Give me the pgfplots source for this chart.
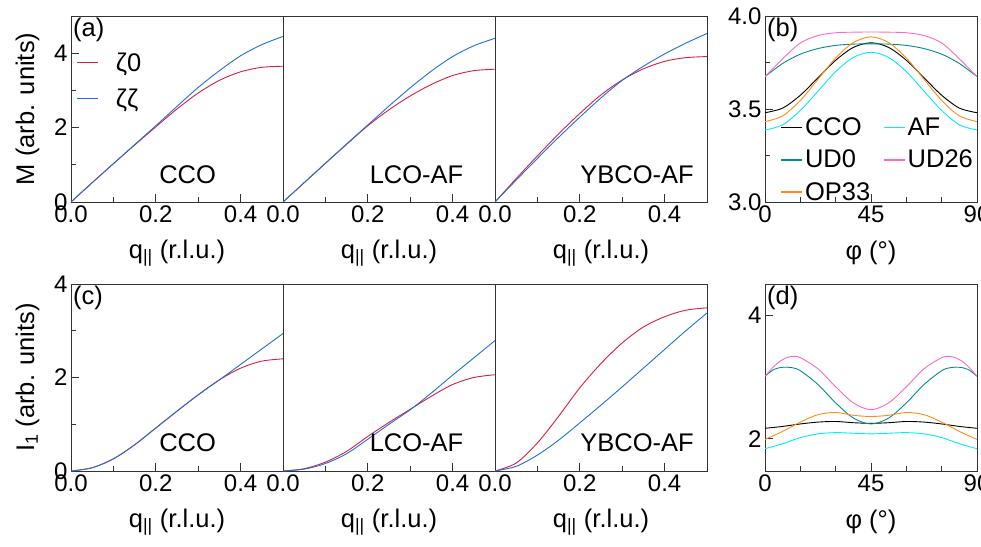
\documentclass[border=0pt]{standalone}
\usepackage{pgfplots}
\pgfplotsset{compat=1.18}
\usepackage{fontspec}
\setmainfont{Liberation Sans}
\definecolor{cred}{RGB}{218,30,65}
\definecolor{cblue}{RGB}{31,111,214}
\definecolor{ccyan}{RGB}{0,238,245}
\definecolor{cteal}{RGB}{0,140,140}
\definecolor{cpink}{RGB}{255,105,190}
\definecolor{corange}{RGB}{255,140,20}
\newcommand{\fs}{\fontsize{24}{28}\selectfont}
\newcommand{\fl}{\fontsize{25.5}{30}\selectfont}
\pgfplotsset{
  base/.style={scale only axis, width=212pt, height=186pt,
    axis line style={line width=0.8pt, black!80},
    tick style={line width=0.8pt, black!80},
    major tick length=8pt, minor tick length=5pt, tick pos=left,
    tick label style={font=\fs}, label style={font=\fl},
    every axis plot/.append style={line width=0.9pt, smooth},
    legend image code/.code={\draw[#1, line width=1.5pt] (0pt,0pt) -- (21pt,0pt);},
    xlabel style={at={(axis description cs:0.5,-0.274)}, anchor=center},
    ylabel style={at={(axis description cs:-0.205,0.5)}, anchor=center},
  },
  qax/.style={base, xmin=0, xmax=0.5, xtick={0,0.2,0.4}, xticklabels={0.0,0.2,0.4},
    minor xtick={0.1,0.3}, xlabel={q\textsubscript{||} (r.l.u.)}},
  pax/.style={base, xmin=0, xmax=90, xtick={0,45,90}, xticklabels={0,45,90},
    minor xtick={15,30,60,75}, xlabel={φ (°)}},
  noy/.style={ytick=\empty, minor ytick={}},
}
\begin{document}
\begin{tikzpicture}
%%%%% (a) CCO
\begin{axis}[qax, at={(71pt,-202pt)}, anchor=south west, ymin=0, ymax=5,
  ytick={0,2,4}, yticklabels={0,2,4}, minor ytick={1,3}, ylabel={M (arb. units)},
  legend style={at={(axis description cs:0.01,0.825)}, anchor=north west, draw=none, fill=none, font=\fl, row sep=12pt,
    /tikz/every odd column/.append style={column sep=15pt}},
  legend cell align=left]
\addplot[cred] coordinates {(0,0) (0.05,0.52) (0.1,1.03) (0.15,1.53) (0.2,2.02) (0.25,2.5) (0.3,2.93) (0.35,3.27) (0.4,3.5) (0.45,3.62) (0.5,3.65)};
\addlegendentry{ζ0}
\addplot[cblue] coordinates {(0,0) (0.05,0.52) (0.1,1.03) (0.15,1.54) (0.2,2.05) (0.25,2.57) (0.3,3.08) (0.35,3.53) (0.4,3.93) (0.45,4.23) (0.5,4.45)};
\addlegendentry{ζζ}
\node[anchor=north west, font=\fl, inner sep=2pt] at (axis description cs:0.0,1.0) {(a)};
\node[font=\fl] at (axis description cs:0.55,0.145) {CCO};
\end{axis}
%%%%% LCO-AF
\begin{axis}[qax, noy, at={(283pt,-202pt)}, anchor=south west, ymin=0, ymax=5]
\addplot[cred] coordinates {(0,0) (0.05,0.52) (0.1,1.04) (0.15,1.55) (0.2,2.05) (0.25,2.48) (0.3,2.85) (0.35,3.16) (0.4,3.4) (0.45,3.53) (0.5,3.57)};
\addplot[cblue] coordinates {(0,0) (0.05,0.52) (0.1,1.04) (0.15,1.56) (0.2,2.07) (0.25,2.58) (0.3,3.07) (0.35,3.52) (0.4,3.91) (0.45,4.2) (0.5,4.40)};
\node[font=\fl] at (axis description cs:0.63,0.145) {LCO-AF};
\end{axis}
%%%%% YBCO-AF
\begin{axis}[qax, noy, at={(495pt,-202pt)}, anchor=south west, ymin=0, ymax=5]
\addplot[cred] coordinates {(0,0) (0.05,0.63) (0.1,1.24) (0.15,1.83) (0.2,2.38) (0.25,2.88) (0.3,3.28) (0.35,3.58) (0.4,3.78) (0.45,3.88) (0.5,3.91)};
\addplot[cblue] coordinates {(0,0) (0.05,0.59) (0.1,1.17) (0.15,1.74) (0.2,2.28) (0.25,2.8) (0.3,3.27) (0.35,3.65) (0.4,3.98) (0.45,4.27) (0.5,4.53)};
\node[font=\fl] at (axis description cs:0.67,0.145) {YBCO-AF};
\end{axis}
%%%%% (b)
\begin{axis}[pax, at={(765pt,-202pt)}, anchor=south west, ymin=3, ymax=4,
  ytick={3,3.5,4}, yticklabels={3.0,3.5,4.0}, minor ytick={3.25,3.75},
  legend columns=2, legend cell align=left,
  legend style={at={(axis description cs:0.058,0.475)}, anchor=north west, draw=none, fill=none, font=\fl, row sep=9pt,
    /tikz/every even column/.append style={column sep=11pt}}]
\addplot[black] coordinates {(0,3.480) (7.5,3.505) (15,3.574) (22.5,3.668) (30,3.762) (37.5,3.831) (45,3.856) (52.5,3.831) (60,3.762) (67.5,3.668) (75,3.574) (82.5,3.505) (90,3.480)};
\addlegendentry{CCO}
\addplot[ccyan] coordinates {(0,3.387) (7.5,3.415) (15,3.492) (22.5,3.596) (30,3.701) (37.5,3.777) (45,3.805) (52.5,3.777) (60,3.701) (67.5,3.596) (75,3.492) (82.5,3.415) (90,3.387)};
\addlegendentry{AF}
\addplot[cteal] coordinates {(0,3.674) (7.5,3.745) (15,3.795) (22.5,3.825) (30,3.842) (37.5,3.849) (45,3.850) (52.5,3.849) (60,3.842) (67.5,3.825) (75,3.795) (82.5,3.745) (90,3.674)};
\addlegendentry{UD0}
\addplot[cpink] coordinates {(0,3.674) (7.5,3.77) (15,3.855) (22.5,3.895) (30,3.910) (37.5,3.913) (45,3.914) (52.5,3.913) (60,3.910) (67.5,3.895) (75,3.855) (82.5,3.77) (90,3.674)};
\addlegendentry{UD26}
\addplot[corange] coordinates {(0,3.432) (7.5,3.463) (15,3.546) (22.5,3.660) (30,3.774) (37.5,3.857) (45,3.888) (52.5,3.857) (60,3.774) (67.5,3.660) (75,3.546) (82.5,3.463) (90,3.432)};
\addlegendentry{OP33}
\node[anchor=north west, font=\fl, inner sep=2pt] at (axis description cs:0.0,1.0) {(b)};
\end{axis}
%%%%% (c) CCO
\begin{axis}[qax, at={(71pt,-471pt)}, anchor=south west, height=187pt, ymin=0, ymax=4,
  ytick={0,2,4}, yticklabels={0,2,4}, minor ytick={1,3}, ylabel={I\textsubscript{1} (arb. units)}]
\addplot[cred] coordinates {(0,0) (0.05,0.07) (0.1,0.26) (0.15,0.56) (0.2,0.92) (0.25,1.28) (0.3,1.63) (0.35,1.95) (0.4,2.2) (0.45,2.35) (0.5,2.4)};
\addplot[cblue] coordinates {(0,0) (0.05,0.07) (0.1,0.26) (0.15,0.56) (0.2,0.92) (0.25,1.28) (0.3,1.63) (0.35,1.95) (0.4,2.28) (0.45,2.61) (0.5,2.94)};
\node[anchor=north west, font=\fl, inner sep=2pt] at (axis description cs:0.0,1.0) {(c)};
\node[font=\fl] at (axis description cs:0.55,0.15) {CCO};
\end{axis}
%%%%% LCO-AF
\begin{axis}[qax, noy, at={(283pt,-471pt)}, anchor=south west, height=187pt, ymin=0, ymax=4]
\addplot[cred] coordinates {(0,0) (0.05,0.05) (0.1,0.19) (0.15,0.42) (0.2,0.74) (0.25,1.04) (0.3,1.32) (0.35,1.6) (0.4,1.85) (0.45,2.0) (0.5,2.06)};
\addplot[cblue] coordinates {(0,0) (0.05,0.04) (0.1,0.16) (0.15,0.37) (0.2,0.68) (0.25,1.0) (0.3,1.31) (0.35,1.67) (0.4,2.05) (0.45,2.42) (0.5,2.79)};
\node[font=\fl] at (axis description cs:0.63,0.15) {LCO-AF};
\end{axis}
%%%%% YBCO-AF
\begin{axis}[qax, noy, at={(495pt,-471pt)}, anchor=south west, height=187pt, ymin=0, ymax=4]
\addplot[cred] coordinates {(0,0) (0.05,0.17) (0.1,0.6) (0.15,1.17) (0.2,1.78) (0.25,2.3) (0.3,2.74) (0.35,3.08) (0.4,3.3) (0.45,3.44) (0.5,3.49)};
\addplot[cblue] coordinates {(0,0) (0.05,0.1) (0.1,0.34) (0.15,0.66) (0.2,1.03) (0.25,1.41) (0.3,1.8) (0.35,2.2) (0.4,2.6) (0.45,3.0) (0.5,3.38)};
\node[font=\fl] at (axis description cs:0.67,0.15) {YBCO-AF};
\end{axis}
%%%%% (d)
\begin{axis}[pax, at={(765pt,-471pt)}, anchor=south west, height=187pt, ymin=1.48, ymax=4.5,
  ytick={2,4}, yticklabels={2,4}]
\addplot[black] coordinates {(0,2.17) (7.5,2.20) (15,2.24) (22.5,2.27) (30,2.28) (37.5,2.26) (45,2.25) (52.5,2.26) (60,2.28) (67.5,2.27) (75,2.24) (82.5,2.20) (90,2.17)};
\addplot[ccyan] coordinates {(0,1.84) (7.5,1.92) (15,2.02) (22.5,2.08) (30,2.10) (37.5,2.09) (45,2.08) (52.5,2.09) (60,2.10) (67.5,2.08) (75,2.02) (82.5,1.92) (90,1.84)};
\addplot[cteal] coordinates {(0,3.01) (3.75,3.12) (7.5,3.155) (11.25,3.15) (15,3.10) (22.5,2.876) (30,2.58) (37.5,2.335) (45,2.24) (52.5,2.335) (60,2.58) (67.5,2.876) (75,3.10) (78.75,3.15) (82.5,3.155) (86.25,3.12) (90,3.01)};
\addplot[cpink] coordinates {(0,3.01) (3.75,3.17) (7.5,3.28) (11.25,3.33) (15,3.31) (22.5,3.13) (30,2.84) (37.5,2.58) (45,2.47) (52.5,2.58) (60,2.84) (67.5,3.13) (75,3.31) (78.75,3.33) (82.5,3.28) (86.25,3.17) (90,3.01)};
\addplot[corange] coordinates {(0,1.99) (7.5,2.12) (15,2.27) (22.5,2.39) (30,2.425) (37.5,2.38) (45,2.36) (52.5,2.38) (60,2.425) (67.5,2.39) (75,2.27) (82.5,2.12) (90,1.99)};
\node[anchor=north west, font=\fl, inner sep=2pt] at (axis description cs:0.0,1.0) {(d)};
\end{axis}
\pgfresetboundingbox
\path[use as bounding box] (0pt,0pt) rectangle (981pt,-546pt);
\end{tikzpicture}
\end{document}
